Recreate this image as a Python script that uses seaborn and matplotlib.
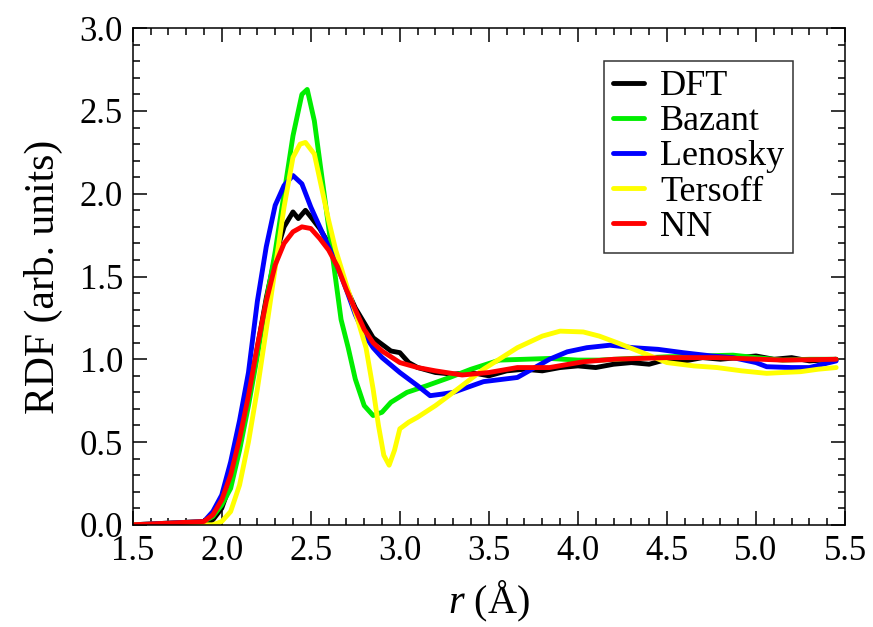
import numpy as np
import pandas as pd
import matplotlib
matplotlib.use("Agg")
import matplotlib.pyplot as plt
from matplotlib.ticker import MultipleLocator
import seaborn as sns

# RDF curves, one (r, g) pair of lists per model
r_dft = [1.5, 1.9, 1.95, 2.0, 2.05, 2.1, 2.15, 2.2, 2.25, 2.3, 2.35, 2.4, 2.43, 2.47,
         2.5, 2.55, 2.6, 2.65, 2.7, 2.75, 2.8, 2.85, 2.9, 2.95, 3.0, 3.05, 3.1, 3.2,
         3.3, 3.4, 3.5, 3.6, 3.7, 3.8, 3.9, 4.0, 4.1, 4.2, 4.3, 4.4, 4.5, 4.6, 4.7,
         4.8, 4.9, 5.0, 5.1, 5.2, 5.3, 5.45]
g_dft = [0, 0, 0.03, 0.10, 0.25, 0.47, 0.77, 1.07, 1.37, 1.62, 1.80, 1.89, 1.85, 1.90,
         1.86, 1.79, 1.70, 1.60, 1.43, 1.31, 1.22, 1.13, 1.09, 1.05, 1.04, 0.98, 0.95, 0.92,
         0.91, 0.92, 0.90, 0.93, 0.94, 0.93, 0.95, 0.96, 0.95, 0.97, 0.98, 0.97, 1.00, 0.99,
         1.01, 1.00, 1.01, 1.02, 1.00, 1.01, 0.99, 1.00]

r_bazant = [1.5, 1.9, 1.95, 2.0, 2.05, 2.1, 2.15, 2.2, 2.25, 2.3, 2.35, 2.4, 2.45, 2.48,
            2.52, 2.57, 2.62, 2.67, 2.71, 2.75, 2.8, 2.85, 2.9, 2.95, 3.04, 3.15, 3.28,
            3.4, 3.56, 3.7, 3.84, 4.0, 4.12, 4.3, 4.5, 4.7, 4.87, 5.0, 5.15, 5.3, 5.45]
g_bazant = [0, 0.02, 0.05, 0.12, 0.22, 0.45, 0.72, 1.02, 1.35, 1.65, 2.0, 2.35, 2.60, 2.63,
            2.44, 2.04, 1.64, 1.24, 1.07, 0.88, 0.72, 0.66, 0.68, 0.74, 0.80, 0.84, 0.89,
            0.94, 0.995, 1.0, 1.005, 0.995, 0.995, 1.005, 1.015, 1.02, 1.025, 1.01, 0.995,
            1.0, 1.0]

r_lenosky = [1.5, 1.9, 1.95, 2.0, 2.05, 2.1, 2.15, 2.2, 2.25, 2.3, 2.35, 2.4, 2.45, 2.5,
             2.55, 2.6, 2.65, 2.7, 2.75, 2.8, 2.85, 2.9, 3.0, 3.1, 3.17, 3.24, 3.3, 3.47,
             3.66, 3.84, 3.94, 4.05, 4.18, 4.31, 4.45, 4.59, 4.75, 4.87, 5.0, 5.06, 5.2,
             5.3, 5.45]
g_lenosky = [0, 0.02, 0.08, 0.18, 0.38, 0.63, 0.92, 1.35, 1.68, 1.93, 2.05, 2.11, 2.06, 1.92,
             1.80, 1.68, 1.56, 1.42, 1.27, 1.15, 1.07, 1.01, 0.92, 0.84, 0.78, 0.79, 0.80,
             0.865, 0.89, 1.0, 1.045, 1.07, 1.085, 1.07, 1.06, 1.04, 1.02, 1.01, 0.98,
             0.955, 0.95, 0.95, 0.99]

r_tersoff = [1.5, 1.95, 2.0, 2.05, 2.1, 2.15, 2.2, 2.25, 2.3, 2.35, 2.4, 2.44, 2.47, 2.52,
             2.56, 2.6, 2.64, 2.7, 2.76, 2.81, 2.85, 2.88, 2.91, 2.94, 2.97, 3.0, 3.05,
             3.1, 3.2, 3.3, 3.47, 3.66, 3.8, 3.9, 4.03, 4.12, 4.22, 4.35, 4.5, 4.65, 4.78,
             4.92, 5.06, 5.15, 5.25, 5.35, 5.45]
g_tersoff = [0, 0, 0.02, 0.08, 0.24, 0.50, 0.82, 1.18, 1.55, 1.92, 2.22, 2.30, 2.31, 2.24,
             2.04, 1.84, 1.66, 1.45, 1.25, 1.07, 0.82, 0.60, 0.42, 0.36, 0.45, 0.58, 0.62,
             0.65, 0.72, 0.80, 0.94, 1.07, 1.14, 1.17, 1.165, 1.14, 1.10, 1.045, 0.98, 0.96,
             0.95, 0.93, 0.915, 0.92, 0.925, 0.94, 0.95]

r_nn = [1.5, 1.9, 1.95, 2.0, 2.05, 2.1, 2.15, 2.2, 2.25, 2.3, 2.35, 2.4, 2.45, 2.5, 2.55,
        2.6, 2.65, 2.7, 2.75, 2.8, 2.85, 2.9, 3.0, 3.1, 3.2, 3.35, 3.5, 3.66, 3.84, 4.03,
        4.2, 4.5, 4.78, 5.15, 5.45]
g_nn = [0, 0.02, 0.06, 0.15, 0.30, 0.52, 0.78, 1.08, 1.35, 1.57, 1.70, 1.77, 1.80, 1.79,
        1.73, 1.66, 1.56, 1.42, 1.30, 1.18, 1.10, 1.05, 0.98, 0.95, 0.93, 0.905, 0.92, 0.95,
        0.95, 0.985, 1.00, 1.01, 1.01, 0.995, 1.00]

models = ["DFT", "Bazant", "Lenosky", "Tersoff", "NN"]
colors = ["#000000", "#00ee00", "#0000ff", "#ffff00", "#ff0000"]
curves = [(r_dft, g_dft), (r_bazant, g_bazant), (r_lenosky, g_lenosky),
          (r_tersoff, g_tersoff), (r_nn, g_nn)]

df = pd.concat([pd.DataFrame({"r": r, "g": g, "model": m})
                for m, (r, g) in zip(models, curves)], ignore_index=True)

#%%
sns.set_style("ticks")
plt.rcParams["font.family"] = ["Liberation Serif", "DejaVu Serif"]
plt.rcParams["mathtext.fontset"] = "custom"
plt.rcParams["mathtext.it"] = "Liberation Serif:italic"
plt.rcParams["mathtext.rm"] = "Liberation Serif"
plt.rcParams["text.color"] = "black"
plt.rcParams["axes.labelcolor"] = "black"

fig = plt.figure(figsize=(8.73, 6.27), dpi=100)
ax = fig.add_axes([0.152, 0.163, 0.816, 0.792])

sns.lineplot(data=df, x="r", y="g", hue="model", hue_order=models,
             palette=dict(zip(models, colors)), sort=False, estimator=None,
             linewidth=3.5, ax=ax)

ax.set_xlim(1.5, 5.5)
ax.set_ylim(0, 3.0)
ax.xaxis.set_major_locator(MultipleLocator(0.5))
ax.xaxis.set_minor_locator(MultipleLocator(0.1))
ax.yaxis.set_major_locator(MultipleLocator(0.5))
ax.yaxis.set_minor_locator(MultipleLocator(0.1))
ax.set_xticklabels([f"{v:.1f}" for v in ax.get_xticks()])
ax.set_yticklabels([f"{v:.1f}" for v in ax.get_yticks()])
ax.tick_params(which="both", direction="in", top=True, right=True,
               labelsize=25, width=1.1, colors="black", labelcolor="black")
ax.tick_params(which="major", length=10, pad=7)
ax.tick_params(which="minor", length=5)
for s in ax.spines.values():
    s.set_linewidth(1.1)
    s.set_color("black")

ax.set_xlabel(r"$r$ (Å)", fontsize=29, labelpad=8)
ax.set_ylabel("RDF (arb. units)", fontsize=30, labelpad=12)

leg = ax.legend(loc="upper right", bbox_to_anchor=(0.927, 0.934), borderaxespad=0,
                fontsize=26, frameon=True, fancybox=False, edgecolor="black",
                handlelength=0.85, handletextpad=0.45, labelspacing=0.05,
                borderpad=0.25, title=None)
leg.get_frame().set_linewidth(1.1)
for line in leg.get_lines():
    line.set_linewidth(3.5)

plt.savefig("out.png", dpi=100)
